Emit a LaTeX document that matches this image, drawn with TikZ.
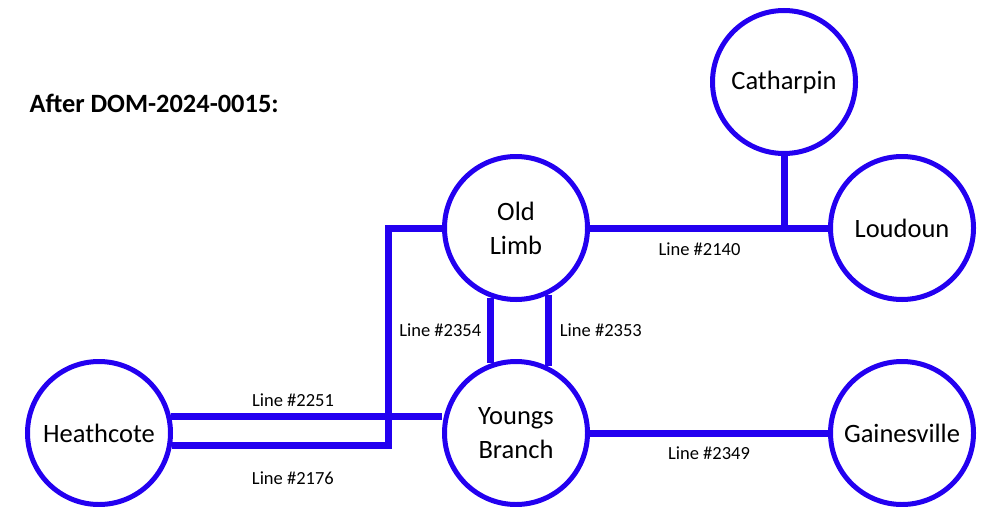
\documentclass[tikz,border=0pt]{standalone}
\usepackage{fontspec}
\setmainfont{Carlito}
\usetikzlibrary{positioning}
\definecolor{netblue}{RGB}{35,0,240}

\begin{document}
\begin{tikzpicture}[
  x=1pt,y=-1pt,
  node distance=57pt and 238pt,
  bus/.style={draw=netblue,circle,line width=5pt,minimum size=143pt,inner sep=1pt,
    align=center,font=\fontsize{26.5}{34}\selectfont},
  feeder/.style={draw=netblue,line width=7pt},
  tag/.style={font=\fontsize{18.5}{21}\selectfont,inner sep=2pt}
]
  \useasboundingbox (0,0) rectangle (981,506);

  \node[anchor=west,font=\fontsize{26.4}{30}\selectfont\bfseries] (title) at (26,103) {After DOM-2024-0015:};

  \node[bus] (OL) at (516,228) {Old\\Limb};
  \node[bus,below=of OL] (YB) {Youngs\\Branch};
  \node[bus,right=of OL] (LO) {Loudoun};
  \node[bus,right=of YB] (GV) {Gainesville};
  \node[bus,left=269pt of YB] (HC) {Heathcote};
  \node[bus] (CA) at (784,82) {Catharpin};

  \coordinate (bend) at (388,228);

  \draw[feeder] (OL) -- node[tag,pos=.46,below=9pt] {Line \#2140} (LO);
  \draw[feeder] (CA) -- (CA.south |- LO.west);
  \draw[feeder] (YB) -- node[tag,pos=.5,below=8pt] {Line \#2349} (GV);
  \draw[feeder] (OL.-110) -- node[tag,left=4pt] {Line \#2354} (YB.110);
  \draw[feeder] (OL.-64) -- node[tag,right=6pt] {Line \#2353} (YB.64);
  \draw[feeder] (HC.13) -- node[tag,pos=.45,above=4pt] {Line \#2251} (HC.13 -| YB.west);
  \draw[feeder] (HC.-10) -| node[tag,pos=.28,below=20pt] {Line \#2176} (bend) -- (OL);
\end{tikzpicture}
\end{document}
